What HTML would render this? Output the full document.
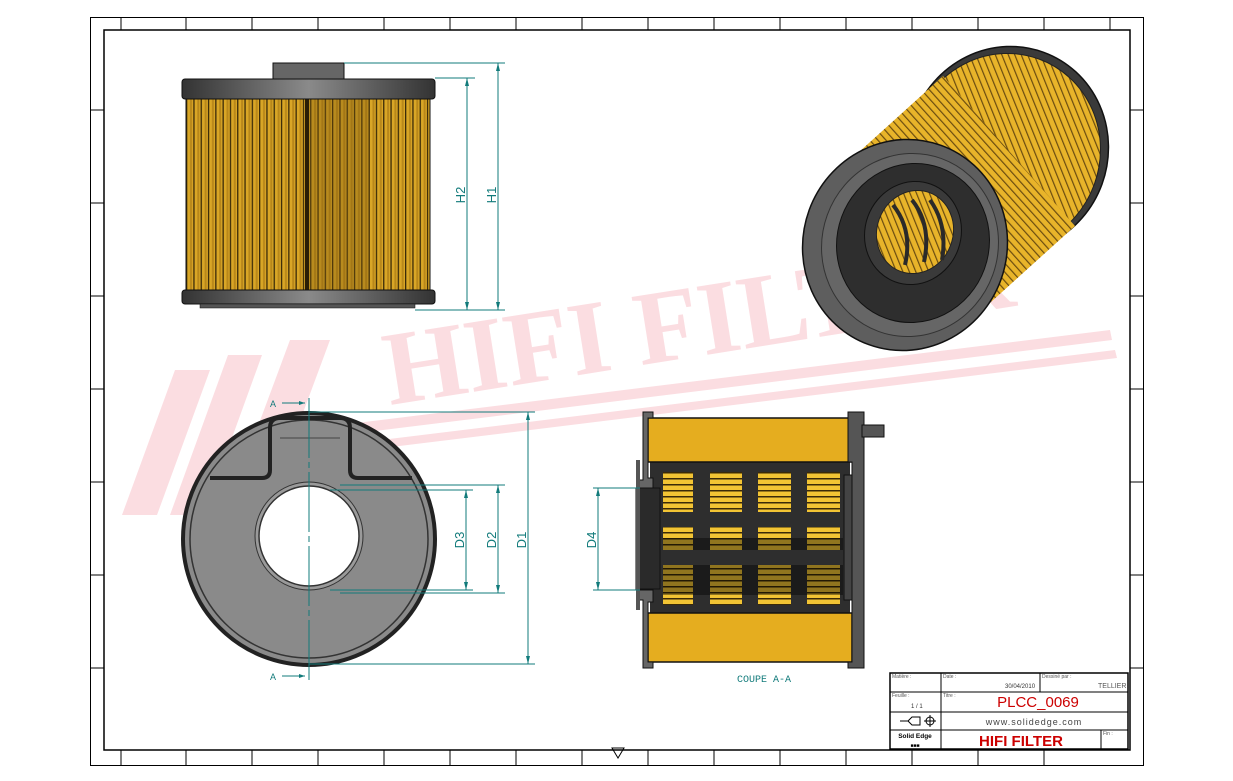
<!DOCTYPE html>
<html><head><meta charset="utf-8"><style>
html,body{margin:0;padding:0;background:#fff}
svg{display:block}
</style></head><body>
<svg width="1233" height="781" viewBox="0 0 1233 781" xmlns="http://www.w3.org/2000/svg" font-family="Liberation Sans, sans-serif">
<defs>
<pattern id="pl" width="7.3" height="10" patternUnits="userSpaceOnUse" x="186">
<rect width="7.3" height="10" fill="#d9a626"/><rect x="0" width="1.3" height="10" fill="#3a2a08"/><rect x="4" width="2" height="10" fill="#b8871a"/>
</pattern>
<pattern id="pl2" width="6" height="10" patternUnits="userSpaceOnUse" patternTransform="rotate(-42)">
<rect width="6" height="10" fill="#e8b42a"/><rect width="1.2" height="10" fill="#6a4c10"/>
</pattern>
<pattern id="hz" width="10" height="6" patternUnits="userSpaceOnUse">
<rect width="10" height="6" fill="#f2c434"/><rect y="4" width="10" height="1.5" fill="#3a2a08"/>
</pattern>
<linearGradient id="cap" x1="0" x2="1"><stop offset="0" stop-color="#333"/><stop offset=".5" stop-color="#8a8a8a"/><stop offset="1" stop-color="#333"/></linearGradient>
</defs>
<!-- frame -->
<rect x="90.5" y="17.5" width="1053" height="748" fill="none" stroke="#000"/>
<rect x="104" y="30" width="1026" height="720" fill="none" stroke="#000" stroke-width="1.5"/>
<g stroke="#000">
<path d="M121 17v13M186 17v13M252 17v13M318 17v13M384 17v13M450 17v13M516 17v13M582 17v13M648 17v13M714 17v13M780 17v13M846 17v13M912 17v13M978 17v13M1044 17v13M1110 17v13"/>
<path d="M121 750v15M186 750v15M252 750v15M318 750v15M384 750v15M450 750v15M516 750v15M582 750v15M648 750v15M714 750v15M780 750v15M846 750v15M912 750v15M978 750v15M1044 750v15"/>
<path d="M90 110h14M90 203h14M90 296h14M90 389h14M90 482h14M90 575h14M90 668h14M1130 110h13M1130 203h13M1130 296h13M1130 389h13M1130 482h13M1130 575h13M1130 668h13"/>
</g>
<!-- watermark -->
<g fill="#fbdde1">
<polygon points="122,515 175,370 210,370 157,515"/>
<polygon points="170,515 228,355 262,355 204,515"/>
<polygon points="225,515 290,340 330,340 265,515"/>
<text x="390" y="405" font-size="105" font-weight="bold" style="font-family:'Liberation Serif',serif" transform="rotate(-9 390 405)">HIFI FILTER</text>
<polygon points="300,430 1110,330 1112,340 302,440"/>
<polygon points="300,450 1115,350 1117,358 302,458"/>
</g>
<!-- front view -->
<rect x="273" y="63" width="71" height="16" fill="#666" stroke="#111"/>
<rect x="186" y="99" width="244" height="192" fill="url(#pl)" stroke="#111"/>
<rect x="305" y="99" width="4" height="192" fill="#2a1e05"/>
<rect x="309" y="99" width="60" height="192" fill="#7a5a10" opacity=".35"/>
<rect x="182" y="79" width="253" height="20" rx="3" fill="url(#cap)" stroke="#111"/>
<rect x="182" y="290" width="253" height="14" rx="3" fill="url(#cap)" stroke="#111"/>
<rect x="200" y="304" width="215" height="4" fill="#555" stroke="#111" stroke-width=".5"/>
<g stroke="#127b7b" fill="none">
<path d="M344 63H505M435 78H475M415 310H505M467 78V310M498 63V310"/>
</g>
<g fill="#127b7b"><path d="M467 78l-2 8h4zM467 310l-2-8h4zM498 63l-2 8h4zM498 310l-2-8h4z"/>
<text transform="translate(465 195) rotate(-90)" font-size="13" text-anchor="middle">H2</text>
<text transform="translate(496 195) rotate(-90)" font-size="13" text-anchor="middle">H1</text></g>
<!-- bottom view -->
<circle cx="309" cy="539" r="126" fill="#8a8a8a" stroke="#222" stroke-width="4"/>
<circle cx="309" cy="539" r="119" fill="none" stroke="#333" stroke-width="1.5"/>
<path d="M210 478 H262 Q270 478 270 470 V428 Q270 418 280 418 H340 Q350 418 350 428 V470 Q350 478 358 478 H412" fill="none" stroke="#222" stroke-width="4"/>
<path d="M280 438 H340" stroke="#444" fill="none"/>
<circle cx="309" cy="536" r="54" fill="#9a9a9a" stroke="#333"/>
<circle cx="309" cy="536" r="50" fill="#fff" stroke="#333" stroke-width="1.5"/>
<g stroke="#127b7b" fill="none">
<path d="M309 398V682" stroke-dasharray="60 4 6 4"/>
<path d="M309 412H535M340 485H505M330 490H473M330 590H473M340 593H505M309 664H535M528 412V664M498 485V593M466 490V590M282 403H305M282 676H305"/>
</g>
<g fill="#127b7b"><path d="M528 412l-2 8h4zM528 664l-2-8h4zM498 485l-2 8h4zM498 593l-2-8h4zM466 490l-2 8h4zM466 590l-2-8h4zM305 403l-6-2v4zM305 676l-6-2v4z"/>
<text transform="translate(526 540) rotate(-90)" font-size="13" text-anchor="middle">D1</text>
<text transform="translate(496 540) rotate(-90)" font-size="13" text-anchor="middle">D2</text>
<text transform="translate(464 540) rotate(-90)" font-size="13" text-anchor="middle">D3</text>
<text x="270" y="407" font-size="9">A</text><text x="270" y="680" font-size="9">A</text></g>
<!-- section -->
<rect x="650" y="462" width="200" height="151" fill="#2e2e2e"/>
<g fill="url(#hz)">
<rect x="663" y="472" width="30" height="40"/><rect x="710" y="472" width="32" height="40"/><rect x="758" y="472" width="33" height="40"/><rect x="807" y="472" width="33" height="40"/>
<rect x="663" y="527" width="30" height="23"/><rect x="710" y="527" width="32" height="23"/><rect x="758" y="527" width="33" height="23"/><rect x="807" y="527" width="33" height="23"/>
<rect x="663" y="565" width="30" height="40"/><rect x="710" y="565" width="32" height="40"/><rect x="758" y="565" width="33" height="40"/><rect x="807" y="565" width="33" height="40"/>
</g>
<g fill="#000" opacity=".4"><rect x="663" y="538" width="180" height="12"/><rect x="663" y="565" width="180" height="30"/></g>
<rect x="648" y="418" width="204" height="44" fill="#e5ad1f" stroke="#111" stroke-width="1.5"/>
<rect x="648" y="613" width="204" height="49" fill="#e5ad1f" stroke="#111" stroke-width="1.5"/>
<path d="M643 412h10v6h-5v60h5v12h-16v-10h6z M643 668h10v-6h-5v-60h5v-12h-16v10h6z" fill="#666" stroke="#111"/>
<rect x="636" y="488" width="24" height="101" fill="#2a2a2a" stroke="#111"/>
<path d="M638 460v150" stroke="#555" stroke-width="4"/>
<path d="M848 412h16v256h-16v-6h4v-200h-4z" fill="#555" stroke="#111"/>
<rect x="862" y="425" width="22" height="12" fill="#555" stroke="#111"/>
<rect x="844" y="475" width="8" height="125" fill="#444" stroke="#111"/>
<g stroke="#127b7b" fill="none"><path d="M593 488H640M593 590H640M598 488V590"/></g>
<g fill="#127b7b"><path d="M598 488l-2 8h4zM598 590l-2-8h4z"/>
<text transform="translate(596 540) rotate(-90)" font-size="13" text-anchor="middle">D4</text>
<text x="737" y="682" font-size="10" style="font-family:'Liberation Mono',monospace">COUPE A-A</text></g>
<!-- iso view -->
<ellipse cx="1008" cy="150" rx="100" ry="104" transform="rotate(20 1008 150)" fill="#3a3a3a" stroke="#111" stroke-width="1.5"/>
<ellipse cx="1005" cy="152" rx="95" ry="99" transform="rotate(20 1005 152)" fill="url(#pl2)" stroke="#222"/>
<polygon points="838,171 943,76 1075,226 970,321" fill="url(#pl2)"/>
<ellipse cx="905" cy="245" rx="102" ry="106" transform="rotate(20 905 245)" fill="#5e5e5e" stroke="#111" stroke-width="1.5"/>
<ellipse cx="910" cy="245" rx="88" ry="92" transform="rotate(20 910 245)" fill="#666" stroke="#333"/>
<ellipse cx="913" cy="243" rx="76" ry="80" transform="rotate(20 913 243)" fill="#2e2e2e" stroke="#111"/>
<ellipse cx="913" cy="233" rx="48" ry="52" transform="rotate(20 913 233)" fill="#3a3a3a" stroke="#111"/>
<ellipse cx="915" cy="232" rx="38" ry="42" transform="rotate(20 915 232)" fill="url(#pl2)" stroke="#222"/>
<g stroke="#2a2a2a" stroke-width="4" fill="none"><path d="M893 205q20 25 12 60M912 200q20 25 12 62M930 200q18 25 12 60"/></g>
<!-- title block -->
<g stroke="#000" fill="none">
<rect x="890" y="673" width="238" height="76" stroke-width="1.5"/>
<path d="M890 692H1128M890 712H1128M890 730H1128M941 673V749M1040 673V692M1101 730V749"/>
</g>
<g font-size="5" fill="#555"><text x="892" y="678">Matière :</text><text x="943" y="678">Date :</text><text x="1042" y="678">Dessiné par :</text><text x="892" y="697">Feuille :</text><text x="943" y="697">Titre :</text><text x="1103" y="735">Fin :</text></g>
<text x="1005" y="688" font-size="6" fill="#333">30/04/2010</text>
<text x="1098" y="688" font-size="7" fill="#555">TELLIER</text>
<text x="911" y="708" font-size="6" fill="#333">1 / 1</text>
<text x="1038" y="707" font-size="15" fill="#c00" text-anchor="middle">PLCC_0069</text>
<text x="1034" y="725" font-size="9" fill="#444" text-anchor="middle" letter-spacing="1">www.solidedge.com</text>
<text x="1021" y="746" font-size="15" font-weight="bold" fill="#c00" text-anchor="middle">HIFI FILTER</text>
<text x="915" y="738" font-size="6.5" font-weight="bold" text-anchor="middle">Solid Edge</text>
<text x="915" y="747" font-size="5" font-weight="bold" text-anchor="middle">■■■</text>
<g stroke="#000" fill="none"><path d="M900 721h8l4-4h8v8h-8l-4-4"/><circle cx="930" cy="721" r="4"/><path d="M924 721h12M930 715v12"/></g>
<path d="M612 748l6 10 6-10z" fill="none" stroke="#000"/>
</svg>
</body></html>
